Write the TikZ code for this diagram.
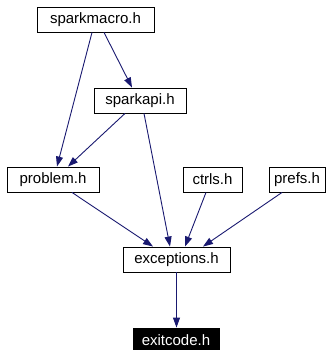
\documentclass[tikz,border=0pt]{standalone}
\usepackage{fontspec}
\setmainfont{Liberation Sans}
\usetikzlibrary{arrows.meta}
\definecolor{edgeblue}{HTML}{191970}
\begin{document}
\begin{tikzpicture}[x=1pt,y=-1pt,
  box/.style={draw=black,line width=0.9pt,fill=white,inner sep=0pt,minimum height=25pt,font=\fontsize{15}{15}\selectfont},
  hl/.style={box,fill=black,text=white},
  edge/.style={draw=edgeblue,line width=0.9pt,-{Stealth[length=10pt,width=7pt,inset=0pt]}}]
\useasboundingbox (0,0) rectangle (329,350);
\node[box,minimum width=117pt] (sm) at (95.5,19.5) {sparkmacro.h};
\node[box,minimum width=92pt] (sa) at (140,100.5) {sparkapi.h};
\node[box,minimum width=92pt] (pr) at (53,179.5) {problem.h};
\node[box,minimum width=59pt] (ct) at (212.5,179.5) {ctrls.h};
\node[box,minimum width=56pt] (pf) at (297,179.5) {prefs.h};
\node[box,minimum width=107pt] (ex) at (176.5,259.5) {exceptions.h};
\node[hl,minimum width=86pt] (ec) at (176,340.5) {exitcode.h};
\draw[edge] ([xshift=-3.5pt]sm.south) -- ([xshift=4pt]pr.north);
\draw[edge] ([xshift=8.5pt]sm.south) -- ([xshift=-8pt]sa.north);
\draw[edge] ([xshift=-15pt]sa.south) -- ([xshift=15pt]pr.north);
\draw[edge] ([xshift=4pt]sa.south) -- ([xshift=-6.5pt]ex.north);
\draw[edge] ([xshift=19pt]pr.south) -- ([xshift=-23.5pt]ex.north);
\draw[edge] ([xshift=-6.5pt]ct.south) -- ([xshift=8.5pt]ex.north);
\draw[edge] ([xshift=-15pt]pf.south) -- ([xshift=26.5pt]ex.north);
\draw[edge] (ex.south) -- ([xshift=0.5pt]ec.north);
\end{tikzpicture}
\end{document}
